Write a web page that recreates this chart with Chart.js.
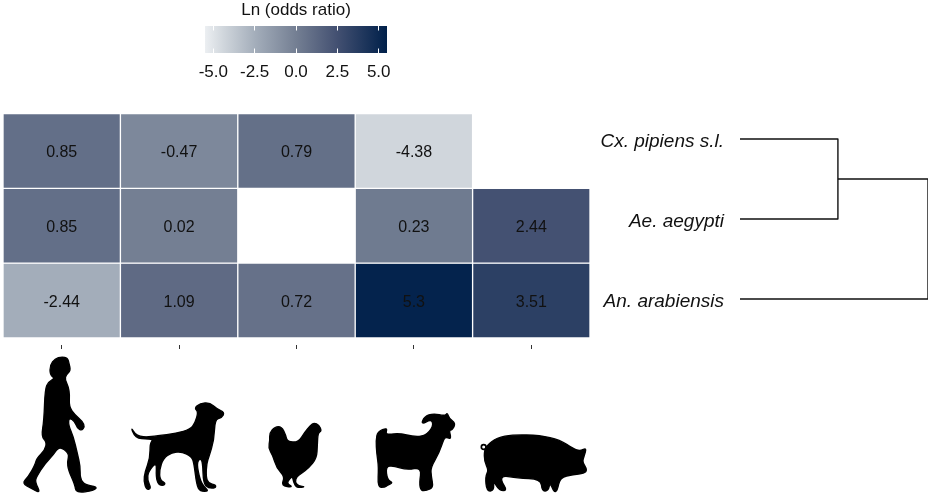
<!DOCTYPE html>
<html><head><meta charset="utf-8">
<script src="https://cdn.jsdelivr.net/npm/chart.js@4"></script>
<style>
html,body{margin:0;padding:0;background:#fff;width:933px;height:498px;overflow:hidden}
canvas{position:absolute}
</style></head><body>
<canvas id="heat" style="left:0;top:0" width="600" height="498"></canvas>
<canvas id="dendro" style="left:590px;top:90px" width="343" height="260"></canvas>
<canvas id="bar" style="left:170px;top:0" width="250" height="90"></canvas>
<script>
const hosts = ['Human','Dog','Chicken','Goat','Pig'];
const species = ['Cx. pipiens s.l.','Ae. aegypti','An. arabiensis'];
const cxPipiens = [0.85,-0.47,0.79,-4.38,null];
const aeAegypti = [0.85,0.02,null,0.23,2.44];
const anArabiensis = [-2.44,1.09,0.72,5.3,3.51];
const rows = [cxPipiens,aeAegypti,anArabiensis];
const legendTicks = [-5,-2.5,0,2.5,5];
const legendRange = [-5.5,5.5];
const leafHeight = 0;
const firstMerge = 1;
const rootMerge = 1.92;
const colorStops = [[-5.5,[236,239,242]],[-4.38,[208,214,220]],[-2.44,[163,173,186]],[0,[116,127,147]],[2.44,[68,81,114]],[5.5,[0,32,74]]];

function colorOf(v){
  for(let i=1;i<colorStops.length;i++){
    const [a,ca]=colorStops[i-1],[b,cb]=colorStops[i];
    if(v<=b){const t=(v-a)/(b-a);return `rgb(${ca.map((c,k)=>Math.round(c+(cb[k]-c)*t)).join(',')})`;}
  }
  return 'rgb(0,32,74)';
}
Chart.defaults.font.family='"Liberation Sans",Arial,sans-serif';
Chart.defaults.animation=false;
Chart.defaults.responsive=false;

const silhouettes=[
 {ox:0,oy:330,d:'150,105 165,86 185,80 203,84 207,100 212,122 198,135 195,148 205,170 209,195 207,230 225,255 248,275 254,290 245,302 232,295 225,275 207,262 205,285 220,320 232,370 241,410 240,445 255,465 292,470 282,482 228,489 225,465 205,420 202,395 208,370 178,348 160,375 135,400 110,440 105,455 122,490 95,476 66,460 85,440 105,405 110,385 135,360 140,335 124,320 132,270 135,180 145,155 165,145 150,135'},
 {ox:0,oy:330,d:'393,292 405,312 420,319 440,321 470,318 530,310 570,298 585,280 595,245 583,235 600,220 630,218 650,236 674,247 665,264 645,268 642,330 627,380 620,400 618,440 625,460 648,465 646,474 625,474 610,460 608,395 600,385 590,400 600,450 612,470 627,484 600,484 590,465 582,400 575,380 545,365 515,368 490,385 478,420 480,450 497,460 490,467 475,464 468,440 470,395 445,425 442,450 454,475 440,480 431,455 435,425 450,385 450,340 460,328 435,327 415,325 402,315'},
 {ox:240,oy:330,d:'88,310 105,290 125,290 137,315 142,335 175,337 195,305 210,288 222,278 237,285 245,303 234,308 232,345 230,385 205,415 185,430 170,440 165,455 175,468 197,470 170,474 160,455 158,440 150,445 140,460 160,472 123,467 135,440 110,415 98,375 85,355 90,330'},
 {ox:240,oy:330,d:'408,330 413,305 442,293 437,310 445,313 480,310 520,320 555,318 580,290 575,267 543,284 553,260 580,250 615,258 622,248 627,265 647,280 637,300 627,300 634,327 620,322 612,325 597,370 572,412 574,440 580,472 560,482 543,482 538,460 545,412 500,420 460,407 437,410 442,450 460,458 440,467 435,472 413,472 416,410 410,370'},
 {ox:240,oy:330,d:'742,346 770,323 820,314 900,316 960,330 1000,356 1020,363 1040,353 1032,380 1027,395 1042,420 1032,430 1000,434 960,442 952,482 942,487 930,457 925,482 906,484 903,447 830,444 790,437 782,450 802,482 778,482 760,452 762,482 740,484 736,440 746,420 733,395 733,360'}
];
const pigTail={ox:240,oy:330,cx:731,cy:351,r:7};

function smoothPath(str){
  const n=str.trim().split(/\s+/).map(s=>s.split(',').map(Number));
  const p=new Path2D();
  const mid=(a,b)=>[(a[0]+b[0])/2,(a[1]+b[1])/2];
  const s=mid(n[0],n[1]);p.moveTo(s[0],s[1]);
  for(let i=1;i<=n.length;i++){
    const c=n[i%n.length],m=mid(c,n[(i+1)%n.length]);
    p.quadraticCurveTo(c[0],c[1],m[0],m[1]);
  }
  p.closePath();return p;
}
const cellLabels={id:'cellLabels',afterDatasetsDraw(chart){
  const c=chart.ctx;c.save();c.font='16px "Liberation Sans",Arial,sans-serif';c.fillStyle='#111';c.textAlign='center';c.textBaseline='middle';
  chart.data.datasets.forEach((ds,r)=>{
    chart.getDatasetMeta(r).data.forEach((el,i)=>{
      const v=rows[r][i]; if(v==null) return;
      const p=el.getCenterPoint();c.fillText(String(v),p.x,p.y+1.5);
    });
  });
  c.restore();
}};
const icons={id:'icons',afterDraw(chart){
  const c=chart.ctx;c.fillStyle='#000';c.strokeStyle='#000';c.lineJoin='round';c.lineWidth=4;
  silhouettes.forEach(s=>{c.save();c.filter='blur(0.4px)';c.translate(s.ox,s.oy);c.scale(1/3,1/3);const p=smoothPath(s.d);c.fill(p);c.stroke(p);c.restore();});
  c.save();c.translate(pigTail.ox,pigTail.oy);c.scale(1/3,1/3);c.beginPath();c.arc(pigTail.cx,pigTail.cy,pigTail.r,0,Math.PI*2);c.lineWidth=5;c.stroke();c.restore();
}};
new Chart(document.getElementById('heat'),{
  type:'bar',
  data:{labels:hosts,datasets:rows.map((vals,r)=>({
    label:species[r],
    data:vals.map(v=>v==null?null:[r,r+1]),
    backgroundColor:vals.map(v=>v==null?'#fff':colorOf(v)),
    borderColor:'#fff',borderWidth:1,borderSkipped:false,
    categoryPercentage:1,barPercentage:1,grouped:false
  }))},
  options:{
    layout:{padding:{left:3,right:10,top:113.5,bottom:149}},
    plugins:{legend:{display:false},tooltip:{enabled:false}},
    scales:{
      x:{type:'category',offset:true,border:{display:false},
         grid:{drawOnChartArea:false,drawTicks:true,tickLength:4,color:'#333',tickWidth:1,offset:false},
         ticks:{display:false},afterFit(s){s.height=4;}},
      y:{type:'linear',reverse:true,min:0,max:3.093,display:false}
    }
  },
  plugins:[cellLabels,icons]
});

const branch1=[{x:leafHeight,y:0.5},{x:firstMerge,y:0.5},{x:firstMerge,y:1.5},{x:leafHeight,y:1.5}];
const branch2=[{x:firstMerge,y:1},{x:rootMerge,y:1},{x:rootMerge,y:2.5},{x:leafHeight,y:2.5}];
new Chart(document.getElementById('dendro'),{
  type:'scatter',
  data:{datasets:[branch1,branch2].map(d=>({data:d,showLine:true,pointRadius:0,borderColor:'#111',borderWidth:1.4,borderJoinStyle:'round',tension:0}))},
  options:{
    layout:{padding:{left:0,right:5,top:9,bottom:11}},
    plugins:{legend:{display:false},tooltip:{enabled:false}},
    scales:{
      x:{type:'linear',min:0,max:rootMerge,display:false},
      y:{type:'linear',reverse:true,min:0,max:3,display:false},
      yl:{type:'linear',position:'left',reverse:true,min:-0.035,max:2.965,
        border:{display:false},grid:{display:false,drawTicks:false},
        afterBuildTicks(s){s.ticks=species.map((_,i)=>({value:i+0.5}));},
        afterFit(s){s.width=150;s.paddingTop=0;s.paddingBottom=0;},
        ticks:{padding:16,color:'#111',font:{size:19,style:'italic'},autoSkip:false,
          callback(v){return species[Math.floor(v)];}}}
    }
  }
});

const vals=legendRange;
new Chart(document.getElementById('bar'),{
  type:'bar',
  data:{labels:['Ln (odds ratio)'],datasets:[{data:[vals],barPercentage:1,categoryPercentage:1,borderWidth:0,
    backgroundColor(ctx){
      const a=ctx.chart.chartArea;if(!a)return '#777';
      const g=ctx.chart.ctx.createLinearGradient(a.left,0,a.right,0);
      colorStops.forEach(([v,c])=>g.addColorStop((v-vals[0])/(vals[1]-vals[0]),`rgb(${c.join(',')})`));
      return g;
    }}]},
  options:{
    indexAxis:'y',
    layout:{padding:{left:35,right:33,top:0,bottom:0}},
    plugins:{legend:{display:false},tooltip:{enabled:false},
      title:{display:true,text:'Ln (odds ratio)',color:'#111',font:{size:17,weight:'normal'},padding:{top:0,bottom:5.6}}},
    scales:{
      y:{display:false},
      x:{type:'linear',min:vals[0],max:vals[1],
        border:{display:false,dash:[4.5,18,10]},
        grid:{color:'#fff',z:1,drawTicks:false,lineWidth:1},
        afterBuildTicks(s){s.ticks=legendTicks.map(v=>({value:v}));},
        afterFit(s){s.height=37;},
        ticks:{padding:9,color:'#111',font:{size:17},maxRotation:0,autoSkip:false,callback(v){return Number(v).toFixed(1);}}}
    }
  }
});
</script>
</body></html>
